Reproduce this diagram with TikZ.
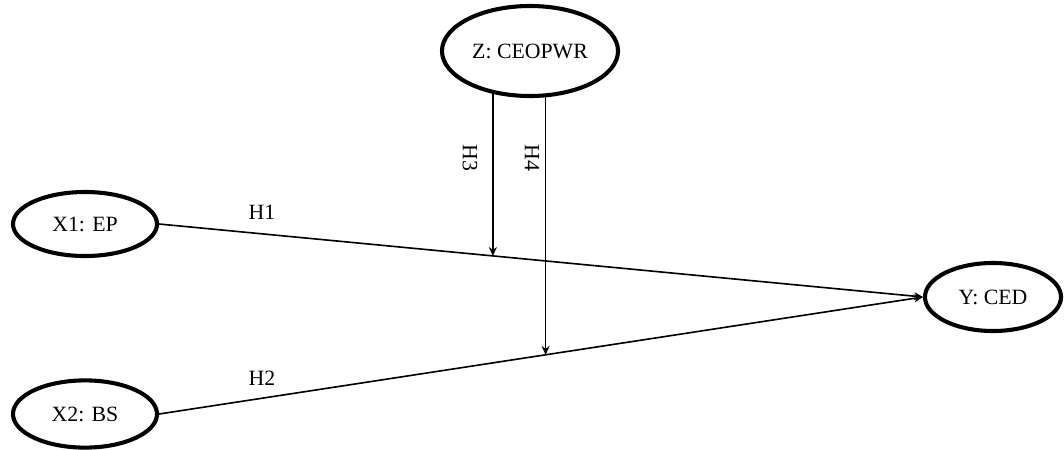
\documentclass[tikz,border=0pt]{standalone}
\usepackage{fontspec}
\setmainfont{Liberation Serif}
\usetikzlibrary{arrows.meta,positioning,shapes.geometric,backgrounds}

\begin{document}
\begin{tikzpicture}[x=0.025cm,y=-0.025cm, every node/.style={font=\fontsize{15.5}{17}\selectfont},
  var/.style={draw,ellipse,line width=2.9pt,fill=white,inner sep=0pt},
  edge/.style={-{Stealth[length=2.2mm,width=2mm]},line width=1.15pt},
  hyp/.style={inner sep=1pt}]
  \useasboundingbox (0,0) rectangle (1064,449);
  % constructs
  \node[var,minimum width=4.4cm,minimum height=2.25cm] (Z) at (530,51) {Z: CEOPWR};
  \node[var,minimum width=3.6cm,minimum height=1.6cm] (X1) at (85,224) {X1: EP};
  \node[var,minimum width=3.6cm,minimum height=1.68cm] (X2) at (85,414) {X2: BS};
  \node[var,minimum width=3.4cm,minimum height=1.7cm] (Y) at (993,297) {Y: CED};
  % points where the moderating arrows land
  \path (X1.east) -- coordinate[pos=0.437] (m3) (Y.west);
  \path (X2.east) -- coordinate[pos=0.506] (m4) (Y.west);
  \begin{scope}[on background layer]
    \draw[edge] (X1.east) -- (Y.west);
    \draw[edge] (X2.east) -- (Y.west);
    \draw[edge] (Z.center -| m3) -- (m3);
    \draw[edge] (Z.center -| m4) -- (m4);
  \end{scope}
  \node[hyp] (h1) at (262,212) {H1};
  \node[hyp] (h2) at (262,378) {H2};
  \node[hyp,rotate=-90] (h3) at (470,158) {H3};
  \node[hyp,rotate=-90] (h4) at (532,158) {H4};
\end{tikzpicture}
\end{document}
